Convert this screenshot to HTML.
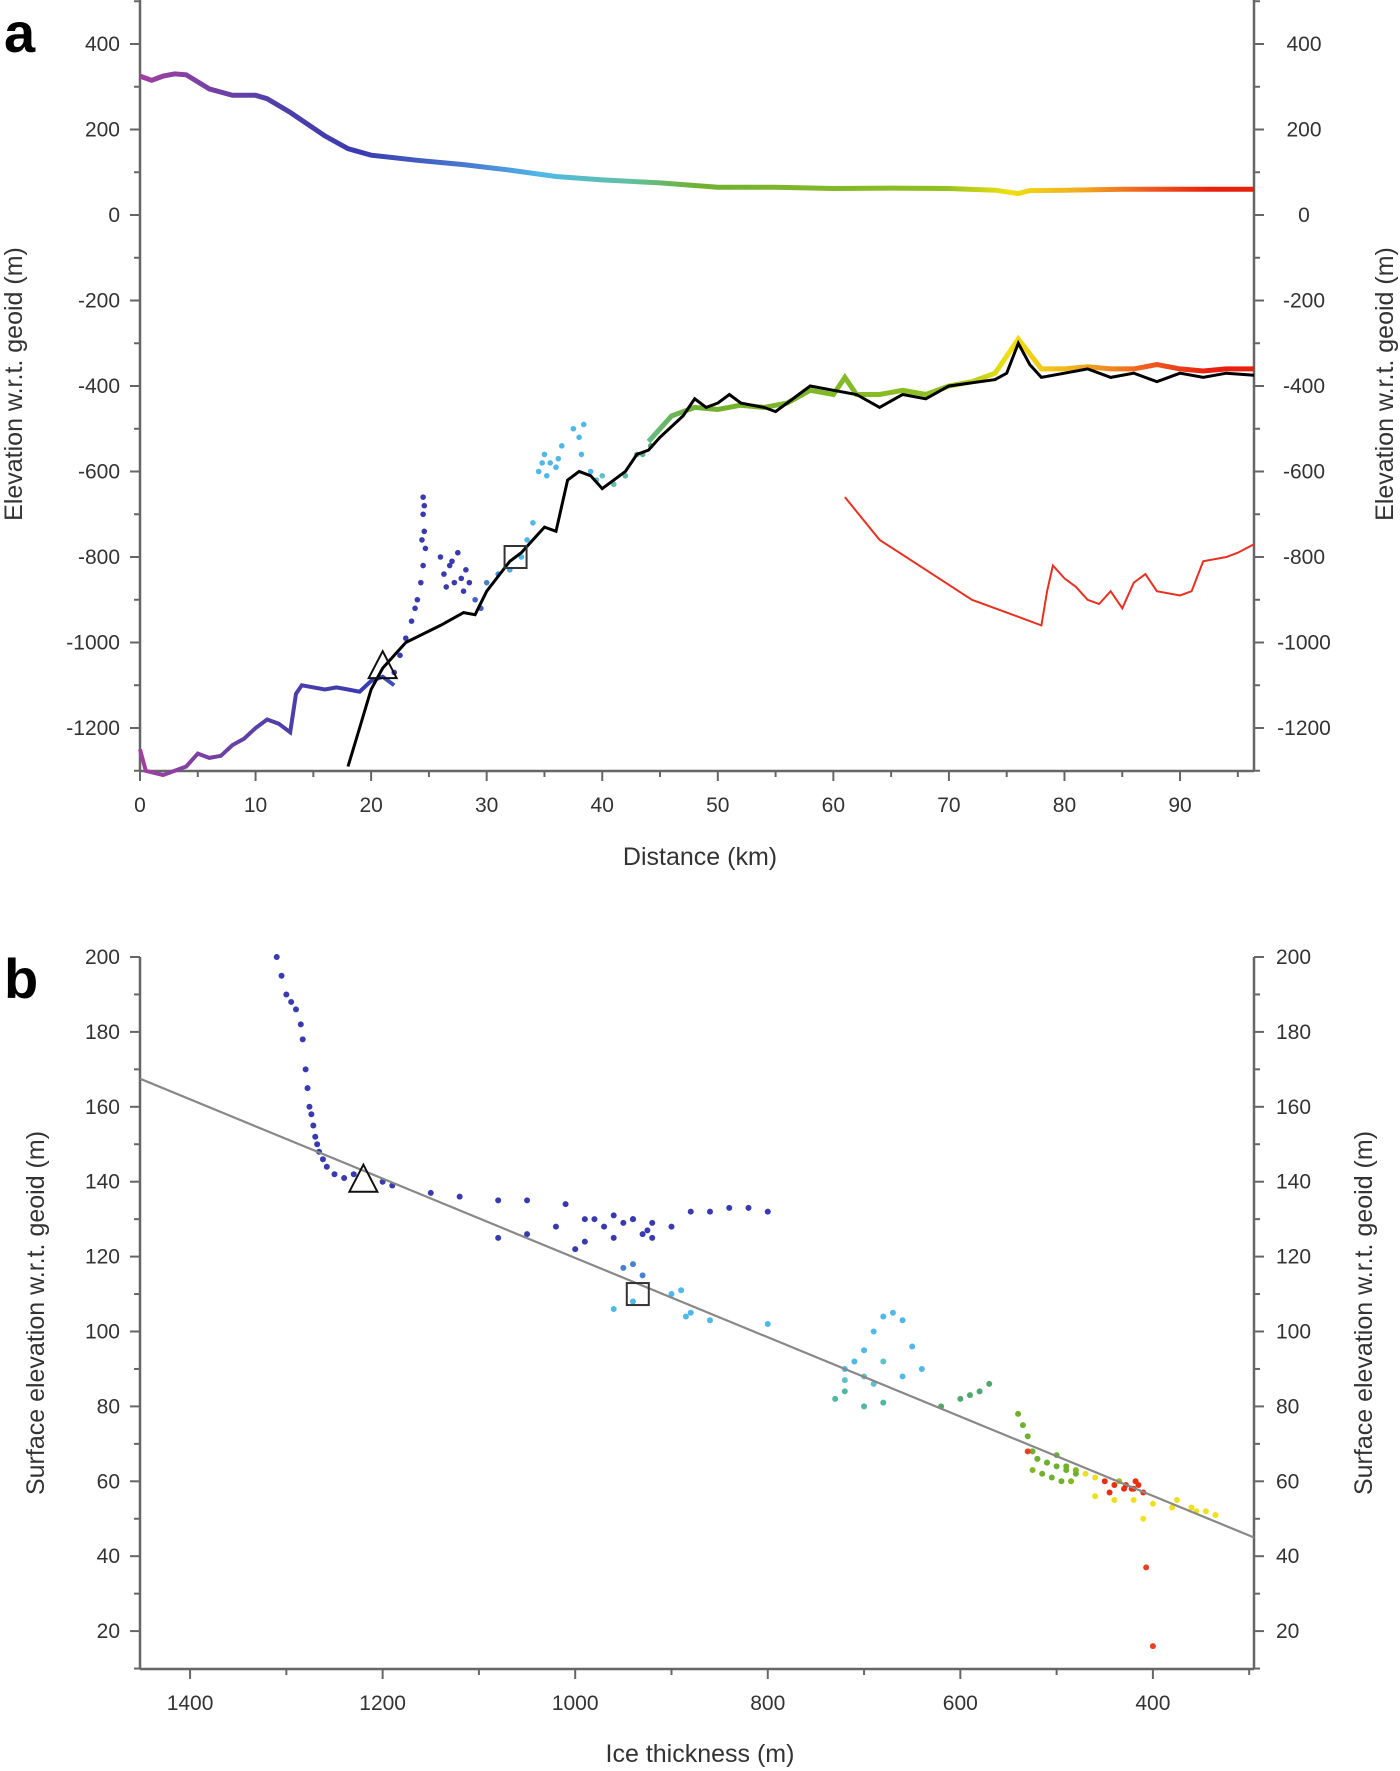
<!DOCTYPE html>
<html><head><meta charset="utf-8"><style>
html,body{margin:0;padding:0;background:#fff;}
svg{display:block;font-family:"Liberation Sans",sans-serif;}
</style></head><body>
<svg id="fig" width="1400" height="1771" viewBox="0 0 1400 1771"></svg>
<script>
// ---------- Panel a data ----------
const aXTicks=[0,10,20,30,40,50,60,70,80,90];
const aYTicks=[400,200,0,-200,-400,-600,-800,-1000,-1200];
const surfKm=[0,1,2,3,4,6,8,10,11,13,16,18,20,24,28,32,36,40,45,50,55,60,65,70,74,76,77,80,85,90,96.4];
const surfM=[325,315,325,330,328,295,280,280,272,240,185,155,140,128,118,105,90,82,75,65,65,62,63,62,58,50,57,58,60,60,60];
const bedKm=[18,19,20,21,23,26,28,29,30,32,33,34,35,36,37,38,39,40,41,42,43,44,45,47,48,49,50,51,52,54,55,57,58,60,62,64,66,68,70,74,75,76,77,78,80,82,84,86,88,90,92,94,96.4];
const bedM=[-1290,-1200,-1110,-1060,-1000,-960,-930,-935,-880,-810,-790,-760,-730,-740,-620,-600,-610,-640,-620,-600,-560,-550,-520,-470,-430,-450,-440,-420,-440,-450,-460,-420,-400,-410,-420,-450,-420,-430,-400,-385,-370,-300,-350,-380,-370,-360,-380,-370,-390,-370,-380,-370,-375];
const lowKm=[0,0.5,2,3,4,5,6,7,8,9,10,11,12,13,13.5,14,16,17,18,19,20,21,22];
const lowM=[-1250,-1300,-1310,-1300,-1290,-1260,-1270,-1265,-1240,-1225,-1200,-1180,-1190,-1210,-1120,-1100,-1110,-1105,-1110,-1115,-1090,-1080,-1100];
const redKm=[61,64,68,72,76,78,78.5,79,80,81,82,83,84,85,86,87,88,90,91,92,94,95,96.4];
const redM=[-660,-760,-830,-900,-940,-960,-880,-820,-850,-870,-900,-910,-880,-920,-860,-840,-880,-890,-880,-810,-800,-790,-770];
const colBedKm=[44,46,48,50,52,54,56,58,60,61,62,64,66,68,70,72,74,76,78,80,82,84,86,88,90,92,94,96.4];
const colBedM=[-530,-470,-450,-455,-445,-450,-440,-410,-420,-380,-420,-420,-410,-420,-400,-390,-370,-290,-360,-360,-355,-360,-360,-350,-360,-365,-360,-360];
const scatKm=[24.5,24.5,24.6,24.7,24.5,24.3,24,23.5,23,22.5,22,26,26.3,26.5,27,27.5,27.8,28,28.5,29,29.5,30,31,32,33,33.5,34,34.5,35,35.5,36,36.5,37.5,38,38.2,39,40,41,42,43,43.5,24.6,24.4,23.8,26.8,27.2,28.2,34.8,35.2,36.2,38.4,39.5,44.2];
const scatM=[-660,-700,-740,-780,-820,-860,-900,-950,-990,-1030,-1070,-800,-840,-870,-810,-790,-850,-880,-860,-900,-920,-860,-840,-830,-800,-760,-720,-600,-560,-580,-590,-540,-500,-520,-560,-600,-610,-630,-610,-560,-560,-680,-760,-920,-820,-860,-830,-580,-610,-570,-490,-620,-540];
const scatCol=["#3a3ab0","#3a3ab0","#3a3ab0","#3a3ab0","#3a3ab0","#3a3ab0","#3a3ab0","#3a3ab0","#3a3ab0","#3a3ab0","#3a3ab0","#3a3ab0","#3a3ab0","#3a3ab0","#3a3ab0","#3a3ab0","#3a3ab0","#3a3ab0","#3a3ab0","#4a60c0","#4a60c0","#4a80d0","#4a90d8","#50a8e0","#50b8e8","#50b8e8","#50b8e8","#50b8e8","#50b8e8","#50b8e8","#50b8e8","#50b8e8","#50b8e8","#50b8e8","#50b8e8","#50b8e8","#60c0c8","#60c0b0","#60b8a0","#60b090","#60b090","#3a3ab0","#3a3ab0","#3a3ab0","#3a3ab0","#3a3ab0","#3a3ab0","#50b8e8","#50b8e8","#50b8e8","#50b8e8","#60c0c8","#50a870"];
// ---------- Panel b data ----------
const bXTicks=[1400,1200,1000,800,600,400];
const bYTicks=[200,180,160,140,120,100,80,60,40,20];
const fitX=[1452,295];
const fitY=[167.5,45];
const bPtsX=[1310,1305,1300,1295,1290,1285,1283,1280,1278,1276,1274,1272,1270,1268,1266,1262,1258,1250,1240,1230,1200,1190,1150,1120,1080,1050,1010,990,960,940,920,900,880,860,840,820,800,1080,1050,1020,1000,990,980,970,960,950,940,930,925,920,950,940,930,960,940,900,890,885,880,860,800,720,710,700,690,680,670,660,650,720,700,690,680,660,640,730,720,700,680,620,600,590,580,570,540,535,530,525,520,510,500,490,480,470,460,450,440,430,420,415,410,460,440,420,400,380,360,345,335,410,407,400,530,520,510,500,490,480,525,515,505,495,485,435,428,422,418,445,375,355];
const bPtsY=[200,195,190,188,186,182,178,170,165,160,158,155,152,150,148,146,144,142,141,142,140,139,137,136,135,135,134,130,131,130,129,128,132,132,133,133,132,125,126,128,122,124,130,128,125,129,130,126,127,125,117,118,115,106,108,110,111,104,105,103,102,90,92,95,100,104,105,103,96,87,88,86,92,88,90,82,84,80,81,80,82,83,84,86,78,75,72,68,66,65,67,64,63,62,61,60,59,58,58,59,57,56,55,55,54,53,53,52,51,50,37,16,68,66,65,64,63,62,63,62,61,60,60,60,59,58,60,57,55,52];
const bPtsC=["#3a3ab0","#3a3ab0","#3a3ab0","#3a3ab0","#3a3ab0","#3a3ab0","#3a3ab0","#3a3ab0","#3a3ab0","#3a3ab0","#3a3ab0","#3a3ab0","#3a3ab0","#3a3ab0","#3a3ab0","#3a3ab0","#3a3ab0","#3a3ab0","#3a3ab0","#3a3ab0","#3a3ab0","#3a3ab0","#3a3ab0","#3a3ab0","#3a3ab0","#3a3ab0","#3a3ab0","#3a3ab0","#3a3ab0","#3a3ab0","#3a3ab0","#3a3ab0","#3a3ab0","#3a3ab0","#3a3ab0","#3a3ab0","#3a3ab0","#3a3ab0","#3a3ab0","#3a3ab0","#3a3ab0","#3a3ab0","#3a3ab0","#3a3ab0","#3a3ab0","#3a3ab0","#3a3ab0","#3a3ab0","#3a3ab0","#3a3ab0","#4a80d0","#4a80d0","#4a80d0","#50b8e8","#50b8e8","#50b8e8","#50b8e8","#50b8e8","#50b8e8","#50b8e8","#50b8e8","#50b8e8","#50b8e8","#50b8e8","#50b8e8","#50b8e8","#50b8e8","#50b8e8","#50b8e8","#60c0c8","#60c0c8","#60c0c8","#60c0c8","#50b8e8","#50b8e8","#50b8a0","#50b8a0","#50b8a0","#50b8a0","#50a870","#50a870","#50a870","#50a870","#50a870","#70b030","#70b030","#70b030","#70b030","#70b030","#70b030","#70b030","#70b030","#80b820","#e8e020","#e8e020","#e83010","#e83010","#e83010","#e83010","#e83010","#e83010","#e8e020","#e8e020","#f0e020","#f0e020","#f0e020","#f0e020","#f0e020","#f0e020","#f0e020","#e84020","#e84020","#e84020","#70b030","#70b030","#70b030","#70b030","#70b030","#80b820","#70b030","#70b030","#70b030","#80b820","#a0c020","#e83010","#e83010","#e83010","#e83010","#e8e020","#f0e020","#f0e020"];

const NS="http://www.w3.org/2000/svg";
const svg=document.getElementById('fig');
function mk(tag,attrs,parent){const e=document.createElementNS(NS,tag);for(const k in attrs)e.setAttribute(k,attrs[k]);(parent||svg).appendChild(e);return e;}
function txt(s,x,y,attrs,parent){const t=mk('text',Object.assign({x:x,y:y},attrs),parent);t.textContent=s;return t;}

const L=140,R=1254;
const ax=km=>L+(km-0)*(1114/96.4);
const ay=m=>215-(m)*(85.5/200);
const bx=t=>L+(1452-t)*(1114/1157);
const by=v=>957+(200-v)*(74.9/20);

const defs=mk('defs',{});
const g=mk('linearGradient',{id:'rb',gradientUnits:'userSpaceOnUse',x1:L,y1:0,x2:R,y2:0},defs);
[[0,'#a040a0'],[0.12,'#5040a8'],[0.2,'#3a3ab0'],[0.3,'#4a80d0'],[0.36,'#50b8e8'],[0.44,'#60c0a0'],[0.5,'#70b030'],[0.72,'#90c020'],[0.78,'#f0e010'],[0.84,'#f0b020'],[0.9,'#f06020'],[0.96,'#e82010']].forEach(s=>mk('stop',{offset:s[0],'stop-color':s[1]},g));

function axesFrame(top,bottom,name){
  const grp=mk('g',{});
  
  
  mk('line',{x1:L,y1:top,x2:L,y2:bottom,stroke:'#666','stroke-width':2.5},grp);
  mk('line',{x1:R,y1:top,x2:R,y2:bottom,stroke:'#666','stroke-width':2.5},grp);
  mk('line',{x1:L,y1:bottom,x2:R,y2:bottom,stroke:'#666','stroke-width':2.5},grp);
  return grp;
}
function path(xs,ys,fx,fy){return xs.map((v,i)=>(i?'L':'M')+fx(v).toFixed(1)+' '+fy(ys[i]).toFixed(1)).join(' ');}

// ---------- Panel a ----------
const fa=axesFrame(0,771,'panel-a-axes');
aYTicks.forEach(v=>{const y=ay(v);
  mk('line',{x1:L-10,y1:y,x2:L,y2:y,stroke:'#666','stroke-width':2},fa);
  mk('line',{x1:R,y1:y,x2:R+10,y2:y,stroke:'#666','stroke-width':2},fa);
  txt(String(v),L-20,y+7,{'text-anchor':'end','font-size':21,fill:'#333'},fa);
  txt(String(v),R+50,y+7,{'text-anchor':'middle','font-size':21,fill:'#333'},fa);
});
for(let v=500;v>=-1300;v-=100){if(v%200){const y=ay(v);mk('line',{x1:L-6,y1:y,x2:L,y2:y,stroke:'#666','stroke-width':2},fa);mk('line',{x1:R,y1:y,x2:R+6,y2:y,stroke:'#666','stroke-width':2},fa);}}
aXTicks.forEach(v=>{const x=ax(v);mk('line',{x1:x,y1:771,x2:x,y2:781,stroke:'#666','stroke-width':2},fa);txt(String(v),x,812,{'text-anchor':'middle','font-size':21,fill:'#333'},fa);});
for(let v=5;v<96;v+=10){const x=ax(v);mk('line',{x1:x,y1:771,x2:x,y2:777,stroke:'#666','stroke-width':2},fa);}
let t=txt('Distance (km)',700,865,{'text-anchor':'middle','font-size':25,fill:'#333'});

t=txt('Elevation w.r.t. geoid (m)',0,0,{'text-anchor':'middle','font-size':25,fill:'#333',transform:'translate(22,384) rotate(-90)'});

t=txt('Elevation w.r.t. geoid (m)',0,0,{'text-anchor':'middle','font-size':25,fill:'#333',transform:'translate(1393,384) rotate(-90)'});

t=txt('a',4,52,{'font-size':56,'font-weight':'bold',fill:'#000'});


let p=mk('path',{d:path(surfKm,surfM,ax,ay),fill:'none',stroke:'url(#rb)','stroke-width':5});

p=mk('path',{d:path(lowKm,lowM,ax,ay),fill:'none',stroke:'url(#rb)','stroke-width':4});

p=mk('path',{d:path(colBedKm,colBedM,ax,ay),fill:'none',stroke:'url(#rb)','stroke-width':5});

scatKm.forEach((k,i)=>{const c=mk('circle',{cx:ax(k),cy:ay(scatM[i]),r:2.8,fill:scatCol[i]});
  });
p=mk('path',{d:path(bedKm,bedM,ax,ay),fill:'none',stroke:'#000','stroke-width':3});

p=mk('path',{d:path(redKm,redM,ax,ay),fill:'none',stroke:'#e83020','stroke-width':2});

{const x=ax(21),y=ay(-1060);p=mk('polygon',{points:`${x},${y-17} ${x-14},${y+10} ${x+14},${y+10}`,fill:'none',stroke:'#111','stroke-width':2});
}
{const x=ax(32.5),y=ay(-800);p=mk('rect',{x:x-11,y:y-11,width:22,height:22,fill:'none',stroke:'#333','stroke-width':2});
}

// ---------- Panel b ----------
const fb=axesFrame(957,1669,'panel-b-axes');
bYTicks.forEach(v=>{const y=by(v);
  mk('line',{x1:L-10,y1:y,x2:L,y2:y,stroke:'#666','stroke-width':2},fb);
  mk('line',{x1:R,y1:y,x2:R+10,y2:y,stroke:'#666','stroke-width':2},fb);
  txt(String(v),L-20,y+7,{'text-anchor':'end','font-size':21,fill:'#333'},fb);
  txt(String(v),R+22,y+7,{'text-anchor':'start','font-size':21,fill:'#333'},fb);
});
for(let v=190;v>=10;v-=20){const y=by(v);mk('line',{x1:L-6,y1:y,x2:L,y2:y,stroke:'#666','stroke-width':2},fb);mk('line',{x1:R,y1:y,x2:R+6,y2:y,stroke:'#666','stroke-width':2},fb);}
bXTicks.forEach(v=>{const x=bx(v);mk('line',{x1:x,y1:1669,x2:x,y2:1679,stroke:'#666','stroke-width':2},fb);txt(String(v),x,1710,{'text-anchor':'middle','font-size':21,fill:'#333'},fb);});
for(let v=1300;v>=300;v-=200){const x=bx(v);mk('line',{x1:x,y1:1669,x2:x,y2:1675,stroke:'#666','stroke-width':2},fb);}
t=txt('Ice thickness (m)',700,1762,{'text-anchor':'middle','font-size':25,fill:'#333'});

t=txt('Surface elevation w.r.t. geoid (m)',0,0,{'text-anchor':'middle','font-size':25,fill:'#333',transform:'translate(44,1313) rotate(-90)'});

t=txt('Surface elevation w.r.t. geoid (m)',0,0,{'text-anchor':'middle','font-size':25,fill:'#333',transform:'translate(1372,1313) rotate(-90)'});

t=txt('b',4,998,{'font-size':56,'font-weight':'bold',fill:'#000'});


bPtsX.forEach((v,i)=>{const c=mk('circle',{cx:bx(v),cy:by(bPtsY[i]),r:3,fill:bPtsC[i]});
  });
p=mk('path',{d:path(fitX,fitY,bx,by),fill:'none',stroke:'#888','stroke-width':2.2});

{const x=bx(1220),y=by(140);p=mk('polygon',{points:`${x},${y-17} ${x-14},${y+10} ${x+14},${y+10}`,fill:'none',stroke:'#111','stroke-width':2});
}
{const x=bx(935),y=by(110);p=mk('rect',{x:x-11,y:y-11,width:22,height:22,fill:'none',stroke:'#333','stroke-width':2});
}
</script>
</body></html>
